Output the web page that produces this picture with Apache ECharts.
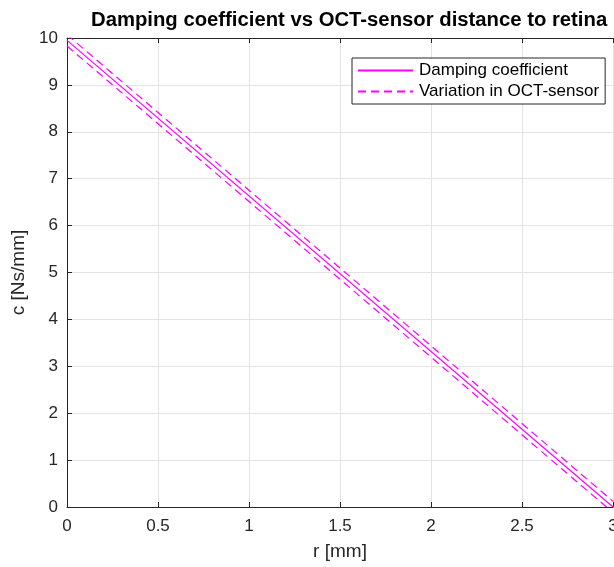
<!DOCTYPE html>
<html>
<head>
<meta charset="utf-8">
<script src="https://cdn.jsdelivr.net/npm/echarts@6/dist/echarts.min.js"></script>
<style>
  html, body { margin: 0; padding: 0; background: #fff; }
  #chart { width: 614px; height: 567px; }
</style>
</head>
<body>
<div id="chart"></div>
<script>
// Distance of the OCT sensor to the retina [mm]
const distance = [0, 3];
// Damping coefficient [Ns/mm]
const damping = [9.95, 0];
// Upper and lower bounds from the sensor variation
const upperBound = [10.07, 0.12];
const lowerBound = [9.83, -0.12];

const xTicks = { min: 0, max: 3, step: 0.5 };
const yTicks = { min: 0, max: 10, step: 1 };

const pairs = (xs, ys) => xs.map((x, i) => [x, ys[i]]);

const FONT = '"Liberation Sans", Arial, Helvetica, sans-serif';
const INK = '#262626';
const MAGENTA = '#ff00ff';
const DASH = [8, 5];

const chart = echarts.init(document.getElementById('chart'), null, { renderer: 'canvas' });

const baseAxis = {
  axisLine: { show: true, lineStyle: { color: INK, width: 1 } },
  axisTick: { show: true, inside: true, length: 5, lineStyle: { color: INK } },
  splitLine: { show: true, lineStyle: { color: '#e3e3e3', width: 1 } },
};

chart.setOption({
  animation: false,
  backgroundColor: '#ffffff',
  title: {
    text: 'Damping coefficient vs OCT-sensor distance to retina',
    left: 86,
    top: 5,
    textStyle: { fontFamily: FONT, fontSize: 20.3, fontWeight: 'bold', color: '#000' }
  },
  grid: { left: 67, right: 1, top: 38, bottom: 60, containLabel: false, outerBoundsMode: 'none' },
  legend: {
    orient: 'vertical',
    left: 352,
    top: 58,
    padding: [4, 6, 4, 5],
    itemGap: 4,
    itemWidth: 55,
    itemHeight: 17,
    backgroundColor: '#ffffff',
    borderColor: INK,
    borderWidth: 1,
    borderRadius: 0,
    itemStyle: { color: 'transparent', borderWidth: 0, opacity: 0 },
    textStyle: { fontFamily: FONT, fontSize: 17, color: '#000', padding: [0, 0, 0, 1] },
    data: [
      { name: 'Damping coefficient' },
      { name: 'Variation in OCT-sensor' }
    ]
  },
  xAxis: [
    Object.assign({}, baseAxis, {
      type: 'value',
      min: xTicks.min, max: xTicks.max, interval: xTicks.step,
      name: 'r [mm]',
      nameLocation: 'middle',
      nameGap: 35,
      nameTextStyle: { fontFamily: FONT, fontSize: 19, color: INK },
      axisLabel: { fontFamily: FONT, fontSize: 17, color: INK, margin: 11 }
    }),
    Object.assign({}, baseAxis, {
      type: 'value',
      position: 'top',
      min: xTicks.min, max: xTicks.max, interval: xTicks.step,
      axisLabel: { show: false },
      splitLine: { show: false }
    })
  ],
  yAxis: Object.assign({}, baseAxis, {
    type: 'value',
    min: yTicks.min, max: yTicks.max, interval: yTicks.step,
    name: 'c [Ns/mm]',
    nameLocation: 'middle',
    nameGap: 31,
    nameRotate: 90,
    nameTextStyle: { fontFamily: FONT, fontSize: 19, color: INK },
    axisLabel: { fontFamily: FONT, fontSize: 17, color: INK, margin: 9 }
  }),
  series: [
    {
      name: 'Damping coefficient',
      type: 'line',
      data: pairs(distance, damping),
      symbol: 'none',
      clip: true,
      lineStyle: { color: MAGENTA, width: 1.2, type: 'solid' },
      itemStyle: { color: MAGENTA }
    },
    {
      name: 'Variation in OCT-sensor',
      type: 'line',
      data: pairs(distance, upperBound),
      symbol: 'none',
      clip: true,
      lineStyle: { color: MAGENTA, width: 1.2, type: DASH },
      itemStyle: { color: MAGENTA }
    },
    {
      name: 'Variation in OCT-sensor',
      type: 'line',
      data: pairs(distance, lowerBound),
      symbol: 'none',
      clip: true,
      lineStyle: { color: MAGENTA, width: 1.2, type: DASH },
      itemStyle: { color: MAGENTA }
    }
  ]
});
</script>
</body>
</html>
